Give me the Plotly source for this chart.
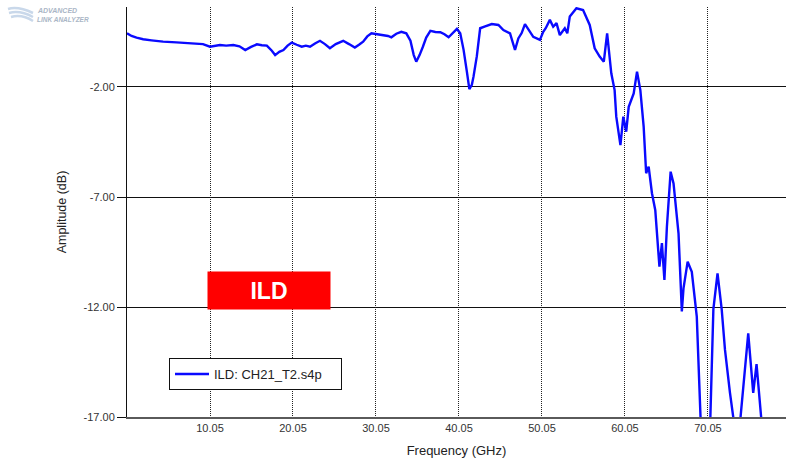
import plotly.graph_objects as go

# Insertion loss deviation trace, frequency in GHz and amplitude in dB
freq_ghz = [
    0.05, 0.6, 1.2, 2.0, 3.0, 4.4, 6.0, 8.0, 9.2, 10.05, 10.6, 11.25, 12.0, 12.86,
    13.6, 14.3, 15.0, 15.7, 16.3, 16.9, 17.5, 17.9, 18.4, 18.9, 19.4, 19.9, 20.5,
    21.1, 21.6, 22.1, 22.7, 23.3, 23.9, 24.5, 25.2, 26.1, 26.8, 27.5, 28.0, 28.5,
    29.0, 29.5, 30.2, 30.9, 31.5, 31.9, 32.5, 33.1, 33.7, 34.2, 34.6, 34.9, 35.3,
    35.7, 36.1, 36.6, 37.2, 37.8, 38.3, 38.8, 39.3, 39.8, 40.2, 40.6, 41.0, 41.3,
    41.6, 41.8, 42.2, 42.6, 43.2, 44.0, 44.8, 45.4, 46.2, 46.8, 47.2, 47.6, 48.0,
    48.5, 49.0, 49.8, 50.2, 50.5, 51.0, 51.4, 51.8, 52.2, 52.8, 53.1, 53.4, 54.2,
    55.0, 55.8, 56.4, 57.0, 57.5, 57.9, 58.4, 58.8, 59.0, 59.5, 59.85, 60.2, 60.5,
    61.1, 61.5, 61.9, 62.3, 62.6, 62.9, 63.3, 63.7, 64.2, 64.5, 64.8, 65.1, 65.55,
    65.9, 66.5, 66.9, 67.1, 67.6, 68.1, 68.7, 69.2, 70.3, 70.7, 71.2, 71.7, 72.1,
    72.7, 73.2, 73.9, 74.5, 74.9, 75.5, 75.9, 76.5,
]
ild_db = [
    0.44, 0.32, 0.24, 0.17, 0.12, 0.06, 0.03, -0.01, -0.05, -0.17, -0.12, -0.09, -0.12, -0.09,
    -0.15, -0.32, -0.18, -0.06, -0.10, -0.12, -0.35, -0.55, -0.40, -0.32, -0.12, 0.02, -0.08,
    -0.17, -0.12, -0.17, -0.02, 0.10, -0.05, -0.24, -0.05, 0.10, -0.05, -0.21, -0.08, 0.06,
    0.30, 0.44, 0.40, 0.36, 0.32, 0.26, 0.42, 0.51, 0.44, 0.10, -0.55, -0.85, -0.55,
    -0.17, 0.25, 0.55, 0.50, 0.49, 0.40, 0.26, 0.45, 0.64, 0.44, -0.30, -1.30, -2.10,
    -1.90, -1.53, -0.60, 0.67, 0.75, 0.86, 0.82, 0.59, 0.44, -0.32, 0.21, 0.45, 0.86,
    0.55, 0.28, 0.14, 0.51, 0.67, 1.05, 0.74, 0.90, 0.36, 0.67, 0.44, 1.20, 1.58,
    1.50, 0.82, -0.24, -0.62, -0.85, 0.44, -1.38, -2.14, -3.35, -4.64, -3.35, -4.03, -2.90,
    -2.29, -1.30, -2.14, -3.80, -5.92, -5.62, -6.83, -7.60, -10.17, -9.10, -10.77, -8.35, -5.85,
    -6.38, -8.65, -12.20, -11.15, -9.94, -10.40, -12.44, -17.50, -17.50, -12.10, -10.47, -12.10, -13.95,
    -15.90, -17.30, -17.30, -15.00, -13.20, -15.90, -14.60, -17.20,
]

x_tick_vals = [10.05, 20.05, 30.05, 40.05, 50.05, 60.05, 70.05]
x_tick_text = ["10.05", "20.05", "30.05", "40.05", "50.05", "60.05", "70.05"]
y_tick_vals = [-2.0, -7.0, -12.0, -17.0]
y_tick_text = ["-2.00", "-7.00", "-12.00", "-17.00"]

FONT = "Liberation Sans, Arial, sans-serif"

fig = go.Figure()
fig.add_trace(go.Scatter(
    x=freq_ghz, y=ild_db, mode="lines", name="ILD: CH21_T2.s4p",
    line=dict(color="#0a0aff", width=2.4),
))

# plot area geometry (pixels) used to place the decorations
L, T, W, H = 127, 7, 659, 410


def px(xp):
    return (xp - L) / W


def py(yp):
    return (T + H - yp) / H


# faint logo swooshes in the top-left corner
swooshes = [
    [(8, 9), (18, 6), (33, 13)],
    [(9, 13), (20, 10), (33, 17)],
    [(11, 17), (22, 14), (33, 21)],
]
shapes = []
for (a, b, c) in swooshes:
    path = f"M {px(a[0])},{py(a[1])} Q {px(b[0])},{py(b[1])} {px(c[0])},{py(c[1])}"
    shapes.append(dict(type="path", xref="paper", yref="paper", path=path,
                       line=dict(color="#c9d8ea", width=2.5)))

annotations = [
    dict(xref="paper", yref="paper", x=px(35), y=py(10), xanchor="left", yanchor="middle",
         text="<b><i>ADVANCED</i></b>", showarrow=False,
         font=dict(family=FONT, size=7, color="#aab6c6")),
    dict(xref="paper", yref="paper", x=px(35), y=py(19), xanchor="left", yanchor="middle",
         text="<b><i>LINK ANALYZER</i></b>", showarrow=False,
         font=dict(family=FONT, size=6.5, color="#aab6c6")),
    dict(xref="paper", yref="paper", x=px(269), y=py(290.5), xanchor="center", yanchor="middle",
         text="<b>ILD</b>", showarrow=False, width=122, height=37, bgcolor="#ff0000",
         borderpad=0, font=dict(family=FONT, size=23, color="white")),
]

fig.update_layout(
    width=786, height=464,
    margin=dict(l=L, r=0, t=T, b=464 - T - H),
    paper_bgcolor="white", plot_bgcolor="white",
    font=dict(family=FONT, size=11, color="#222"),
    showlegend=True,
    legend=dict(
        x=px(169), y=py(358), xanchor="left", yanchor="top",
        orientation="h", entrywidth=122, entrywidthmode="pixels", itemwidth=34,
        bgcolor="white", bordercolor="#111", borderwidth=1,
        font=dict(family=FONT, size=13, color="#222"),
    ),
    shapes=shapes,
    annotations=annotations,
    xaxis=dict(
        range=[0.05, 79.45], tickvals=x_tick_vals, ticktext=x_tick_text,
        showgrid=True, gridcolor="#222", griddash="1px,1px", gridwidth=1,
        showline=True, linecolor="#5a5a5a", linewidth=2,
        ticks="", zeroline=False,
        title=dict(text="Frequency (GHz)", font=dict(family=FONT, size=13, color="#222"), standoff=13),
        tickfont=dict(family=FONT, size=11, color="#333"),
    ),
    yaxis=dict(
        range=[-17, 1.636], tickvals=y_tick_vals, ticktext=y_tick_text,
        showgrid=True, gridcolor="#111", gridwidth=1,
        showline=True, linecolor="#111", linewidth=1,
        ticks="outside", ticklen=9, tickcolor="#111",
        zeroline=False,
        title=dict(text="Amplitude (dB)", font=dict(family=FONT, size=12.5, color="#222"), standoff=14),
        tickfont=dict(family=FONT, size=11, color="#333"),
    ),
)

fig.write_html("out.html")
